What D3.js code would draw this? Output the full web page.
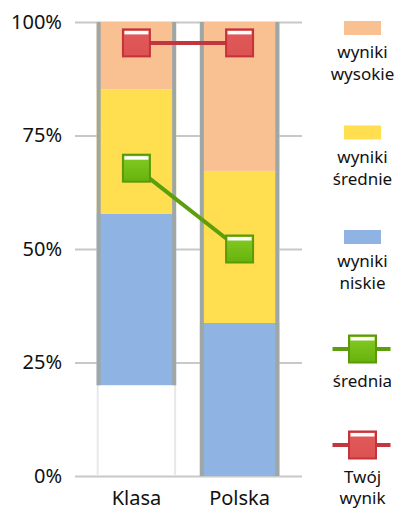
<!DOCTYPE html>
<html>
<head>
<meta charset="utf-8">
<script src="https://cdn.jsdelivr.net/npm/d3@7"></script>
<style>
  body { margin: 0; background: #fff; }
  svg { display: block; font-family: "Noto Sans", "DejaVu Sans", sans-serif; }
</style>
</head>
<body>
<div id="chart"></div>
<script>
// values (percent)
const categories = ["Klasa", "Polska"];
const brak = [20, 0];           // empty part at the bottom
const niskie = [37.8, 33.7];
const srednie = [27.4, 33.5];
const wysokie = [14.8, 32.8];
const srednia = [67.8, 50];
const twojWynik = [95.4, 95.4];
const yTicks = [0, 25, 50, 75, 100];

const legendBoxes = [
  {label: ["wyniki", "wysokie"], color: "#f9c192"},
  {label: ["wyniki", "średnie"], color: "#ffdf4f"},
  {label: ["wyniki", "niskie"], color: "#8fb4e3"}
];
const legendLines = [
  {label: ["średnia"], line: "#5c9e0c", stroke: "#5a9a0a", top: "#86ca26", bottom: "#66b30c", id: "gGreen"},
  {label: ["Twój", "wynik"], line: "#c23640", stroke: "#c4323a", top: "#e25a5a", bottom: "#dc5252", id: "gRed"}
];

const width = 402, height = 511;
const margin = {top: 22, right: 100, bottom: 35, left: 75};

const svg = d3.select("#chart").append("svg")
    .attr("width", width)
    .attr("height", height);

const defs = svg.append("defs");
legendLines.forEach(function(s) {
  const g = defs.append("linearGradient").attr("id", s.id)
      .attr("x1", 0).attr("y1", 0).attr("x2", 0).attr("y2", 1);
  g.append("stop").attr("offset", "0%").attr("stop-color", s.top);
  g.append("stop").attr("offset", "100%").attr("stop-color", s.bottom);
});

const x = d3.scaleBand()
    .domain(categories)
    .range([margin.left - 1, width - margin.right])
    .paddingInner(0.23)
    .paddingOuter(0.22);

const y = d3.scaleLinear()
    .domain([0, 100])
    .range([height - margin.bottom, margin.top]);

// y axis with gridlines
const yAxis = svg.append("g")
    .attr("transform", `translate(${margin.left},0)`)
    .call(d3.axisLeft(y).tickValues(yTicks).tickFormat(d => d + "%")
      .tickSize(-(width - margin.right - margin.left)).tickPadding(13));
yAxis.select(".domain").remove();
yAxis.selectAll("line").attr("stroke", "#c8c8c8").attr("stroke-width", 2);
yAxis.selectAll("text").attr("font-size", 20).attr("fill", "#111")
    .attr("font-family", "Noto Sans");

// light track behind each bar
const bw = x.bandwidth();
categories.forEach(function(c) {
  [x(c) + 1, x(c) + bw - 1].forEach(function(px) {
    svg.append("line")
        .attr("x1", px).attr("x2", px)
        .attr("y1", y(100)).attr("y2", y(0))
        .attr("stroke", "#e8e8e8").attr("stroke-width", 2);
  });
});

// stacked segments
const rows = categories.map((c, i) => ({cat: c, brak: brak[i], niskie: niskie[i], srednie: srednie[i], wysokie: wysokie[i]}));
const keys = ["brak", "niskie", "srednie", "wysokie"];
const colors = {brak: "none", niskie: "#8fb4e3", srednie: "#ffdf4f", wysokie: "#f9c192"};
const stack = d3.stack().keys(keys)(rows);

svg.append("g").selectAll("g")
  .data(stack)
  .join("g")
    .attr("fill", d => colors[d.key])
  .selectAll("rect")
  .data(d => d)
  .join("rect")
    .attr("x", d => x(d.data.cat))
    .attr("y", d => y(d[1]))
    .attr("width", bw)
    .attr("height", d => y(d[0]) - y(d[1]));

// grey side borders of the coloured part
rows.forEach(function(r) {
  const bottom = y(r.brak), top = y(100);
  [x(r.cat), x(r.cat) + bw - 4].forEach(function(px) {
    svg.append("rect")
        .attr("x", px).attr("y", top)
        .attr("width", 4).attr("height", bottom - top)
        .attr("fill", "#9ea7a5");
  });
});

function marker(g, cx, cy, s) {
  const size = 27;
  g.append("rect")
      .attr("x", cx - size / 2).attr("y", cy - size / 2)
      .attr("width", size).attr("height", size)
      .attr("fill", `url(#${s.id})`)
      .attr("stroke", s.stroke).attr("stroke-width", 2);
  g.append("rect")
      .attr("x", cx - size / 2 + 1.5).attr("y", cy - size / 2 + 1.5)
      .attr("width", size - 3).attr("height", 3.5)
      .attr("fill", "#fff");
}

// lines with markers
const lineGen = d3.line()
    .x(d => x(d.cat) + bw / 2)
    .y(d => y(d.v));

[[srednia, legendLines[0]], [twojWynik, legendLines[1]]].forEach(function(pair) {
  const pts = categories.map((c, i) => ({cat: c, v: pair[0][i]}));
  const g = svg.append("g");
  g.append("path")
      .datum(pts)
      .attr("d", lineGen)
      .attr("fill", "none")
      .attr("stroke", pair[1].line)
      .attr("stroke-width", 4);
  pts.forEach(p => marker(g, x(p.cat) + bw / 2, y(p.v), pair[1]));
});

// category labels
const xAxis = svg.append("g")
    .attr("transform", `translate(0,${y(0)})`)
    .call(d3.axisBottom(x).tickSize(0).tickPadding(15));
xAxis.select(".domain").remove();
xAxis.selectAll("text").attr("font-size", 20).attr("fill", "#111")
    .attr("font-family", "Noto Sans");

// legend
const lx = 362.5;
const legend = svg.append("g").attr("font-size", 17).attr("fill", "#111")
    .attr("text-anchor", "middle");

legendBoxes.forEach(function(s, i) {
  const top = 21 + i * 104.5;
  legend.append("rect")
      .attr("x", lx - 18.5).attr("y", top)
      .attr("width", 37).attr("height", 14)
      .attr("fill", s.color);
  s.label.forEach(function(t, j) {
    legend.append("text").attr("x", lx).attr("y", top + 37 + j * 22).text(t);
  });
});

legendLines.forEach(function(s, i) {
  const cy = 349 + i * 96;
  legend.append("line")
      .attr("x1", lx - 30).attr("x2", lx + 28)
      .attr("y1", cy).attr("y2", cy)
      .attr("stroke", s.line).attr("stroke-width", 4);
  marker(legend, lx, cy, s);
  s.label.forEach(function(t, j) {
    legend.append("text").attr("x", lx).attr("y", cy + 38 + j * 21).text(t);
  });
});
</script>
</body>
</html>
